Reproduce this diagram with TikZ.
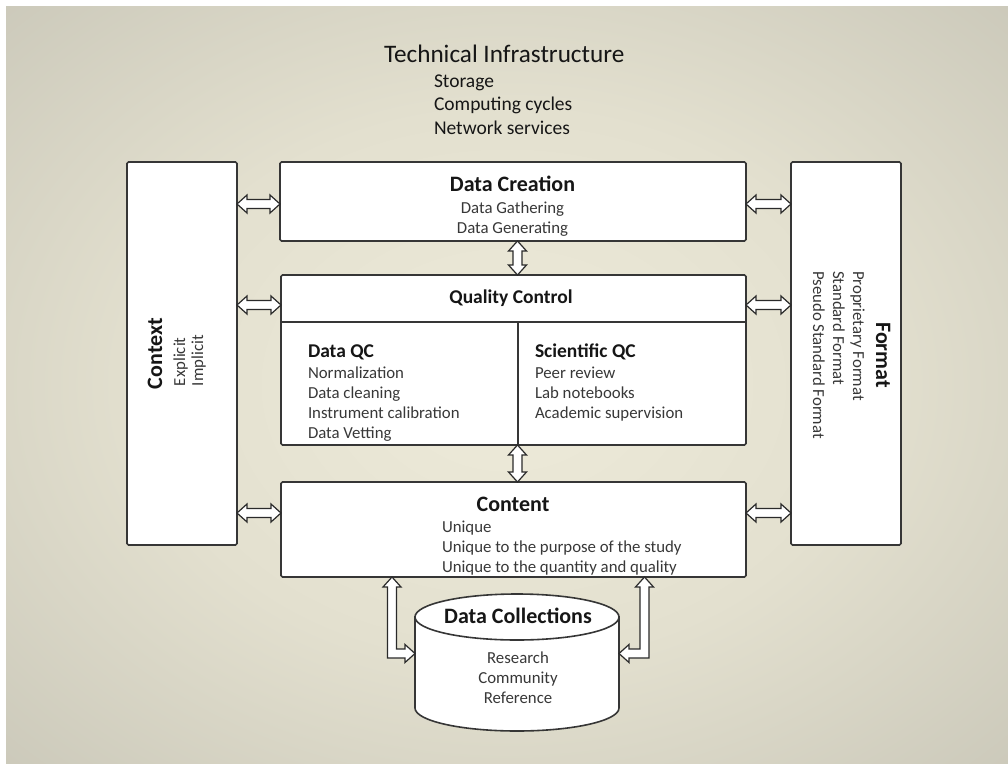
\documentclass[tikz,border=0pt]{standalone}
\usepackage{fontspec}
\setmainfont{Carlito}
\usetikzlibrary{calc}
\definecolor{bgA}{HTML}{EEEBDA}
\definecolor{bgB}{HTML}{E3E0CF}
\definecolor{bgC}{HTML}{B9B7AA}
\definecolor{bgD}{HTML}{A5A398}
\definecolor{titlec}{HTML}{161616}
\definecolor{itemc}{HTML}{383838}
\definecolor{boxline}{HTML}{363636}
\definecolor{arrline}{HTML}{2A2A2A}
\pgfdeclareradialshading{bgshade}{\pgfpoint{0bp}{0bp}}{color(0bp)=(bgA); color(18bp)=(bgB); color(50bp)=(bgC); color(71bp)=(bgD)}
\newcommand\fsz[2]{\fontsize{#1}{#2}\selectfont}
% horizontal double arrow between two points of equal height
\newcommand\harr[2]{\draw[arrw] let \p1=(#1), \p2=(#2) in
  (\x1,\y1) -- (\x1+10pt,\y1+9pt) -- (\x1+10pt,\y1+4.5pt) -- (\x2-10pt,\y1+4.5pt) -- (\x2-10pt,\y1+9pt)
  -- (\x2,\y1) -- (\x2-10pt,\y1-9pt) -- (\x2-10pt,\y1-4.5pt) -- (\x1+10pt,\y1-4.5pt) -- (\x1+10pt,\y1-9pt) -- cycle;}
% vertical double arrow, #1 top point, #2 bottom point
\newcommand\varr[2]{\draw[arrw] let \p1=(#1), \p2=(#2) in
  (\x1,\y1) -- (\x1+9pt,\y1-10pt) -- (\x1+4.5pt,\y1-10pt) -- (\x1+4.5pt,\y2+10pt) -- (\x1+9pt,\y2+10pt)
  -- (\x1,\y2) -- (\x1-9pt,\y2+10pt) -- (\x1-4.5pt,\y2+10pt) -- (\x1-4.5pt,\y1-10pt) -- (\x1-9pt,\y1-10pt) -- cycle;}
% L-shaped arrow: up tip #1, right tip #2
\newcommand\larrR[2]{\draw[arrw] let \p1=(#1), \p2=(#2) in
  (\x1,\y1) -- (\x1+9pt,\y1-10pt) -- (\x1+4.5pt,\y1-10pt) -- (\x1+4.5pt,\y2+4.5pt) -- (\x2-10pt,\y2+4.5pt)
  -- (\x2-10pt,\y2+9pt) -- (\x2,\y2) -- (\x2-10pt,\y2-9pt) -- (\x2-10pt,\y2-4.5pt) -- (\x1-4.5pt,\y2-4.5pt)
  -- (\x1-4.5pt,\y1-10pt) -- (\x1-9pt,\y1-10pt) -- cycle;}
% L-shaped arrow: up tip #1, left tip #2
\newcommand\larrL[2]{\draw[arrw] let \p1=(#1), \p2=(#2) in
  (\x1,\y1) -- (\x1-9pt,\y1-10pt) -- (\x1-4.5pt,\y1-10pt) -- (\x1-4.5pt,\y2+4.5pt) -- (\x2+10pt,\y2+4.5pt)
  -- (\x2+10pt,\y2+9pt) -- (\x2,\y2) -- (\x2+10pt,\y2-9pt) -- (\x2+10pt,\y2-4.5pt) -- (\x1+4.5pt,\y2-4.5pt)
  -- (\x1+4.5pt,\y1-10pt) -- (\x1+9pt,\y1-10pt) -- cycle;}
\begin{document}
\begin{tikzpicture}[x=1pt,y=-1pt,
  panel/.style={draw=boxline, line width=1.6pt, fill=white, rounded corners=1.5pt, inner sep=0pt, outer sep=0pt},
  arrw/.style={draw=arrline, line width=1.2pt, fill=white, line join=miter},
  ttl/.style={inner sep=0pt, outer sep=0pt, font=\bfseries\fsz{22}{26}, text=titlec},
  qct/.style={inner sep=0pt, outer sep=0pt, font=\bfseries\fsz{19.5}{23}, text=titlec},
  itm/.style={inner sep=0pt, outer sep=0pt, font=\fsz{16.8}{20}, text=itemc},
  toptitle/.style={inner sep=0pt, outer sep=0pt, font=\fsz{25.2}{28}, text=titlec},
  topitem/.style={inner sep=0pt, outer sep=0pt, font=\fsz{19.5}{23}, text=titlec}]
\useasboundingbox (0,0) rectangle (1008,763);
\fill[white] (0,0) rectangle (1008,763);
\shade[shading=bgshade] (6,6) rectangle (1008,763);

% top text
\node[toptitle, anchor=base west] (ti) at (384,62) {Technical Infrastructure};
\node[topitem, anchor=base west] (ti1) at (434,87) {Storage};
\node[topitem, anchor=base west] (ti2) at (434,110) {Computing cycles};
\node[topitem, anchor=base west] (ti3) at (434,134) {Network services};

% panels
\node[panel, minimum width=110pt, minimum height=383pt] (ctx) at (182,353.5) {};
\node[panel, minimum width=110pt, minimum height=383pt] (fmt) at (846,353.5) {};
\node[panel, minimum width=466pt, minimum height=79pt] (dc) at (513,201.5) {};
\node[panel, minimum width=465pt, minimum height=170pt] (qc) at (513.5,360) {};
\node[panel, minimum width=465pt, minimum height=95pt] (cnt) at (513.5,529.5) {};
\coordinate (qcdiv) at (518,322);
\draw[boxline, line width=1.6pt] (qc.west |- qcdiv) -- (qc.east |- qcdiv);
\draw[boxline, line width=1.6pt] (qcdiv) -- (qcdiv |- qc.south);

% cylinder
\node[inner sep=0pt, outer sep=0pt, minimum width=204pt, minimum height=137pt] (cyl) at (517,662.5) {};
\filldraw[draw=boxline, line width=1.6pt, fill=white] (415,617) -- (415,708)
  arc[start angle=180, end angle=360, x radius=102pt, y radius=23pt] -- (619,617) -- cycle;
\filldraw[draw=boxline, line width=1.6pt, fill=white] (517,617) ellipse[x radius=102pt, y radius=23pt];

% arrow levels
\coordinate (ya) at (0,204);
\coordinate (yb) at (0,305);
\coordinate (yc) at (0,513);
\coordinate (xa) at (517.5,0);
\coordinate (la) at (392,0);
\coordinate (ra) at (644.5,0);
\coordinate (ly) at (0,653.5);

\harr{ctx.east |- ya}{dc.west |- ya}
\harr{ctx.east |- yb}{qc.west |- yb}
\harr{ctx.east |- yc}{cnt.west |- yc}
\harr{dc.east |- ya}{fmt.west |- ya}
\harr{qc.east |- yb}{fmt.west |- yb}
\harr{cnt.east |- yc}{fmt.west |- yc}
\varr{dc.south -| xa}{qc.north -| xa}
\varr{qc.south -| xa}{cnt.north -| xa}
\larrR{cnt.south -| la}{cyl.west |- ly}
\larrL{cnt.south -| ra}{cyl.east |- ly}

% Data Creation
\node[ttl, anchor=base] (dct) at (512.5,191) {Data Creation};
\node[itm, anchor=base] (dc1) at (512.5,213) {Data Gathering};
\node[itm, anchor=base] (dc2) at (512.5,233) {Data Generating};

% Quality Control
\node[qct, anchor=base] (qctt) at (511,303) {Quality Control};
\node[qct, anchor=base west] (dqc) at (308,357) {Data QC};
\node[itm, anchor=base west] (dqc1) at (308,378) {Normalization};
\node[itm, anchor=base west] (dqc2) at (308,398) {Data cleaning};
\node[itm, anchor=base west] (dqc3) at (308,418.5) {Instrument calibration};
\node[itm, anchor=base west] (dqc4) at (308,438.5) {Data Vetting};
\node[qct, anchor=base west] (sqc) at (535,357) {Scientific QC};
\node[itm, anchor=base west] (sqc1) at (535,378) {Peer review};
\node[itm, anchor=base west] (sqc2) at (535,398) {Lab notebooks};
\node[itm, anchor=base west] (sqc3) at (535,418.5) {Academic supervision};

% Content
\node[ttl, anchor=base] (cntt) at (513,511) {Content};
\node[itm, anchor=base west] (cn1) at (442,532) {Unique};
\node[itm, anchor=base west] (cn2) at (442,552) {Unique to the purpose of the study};
\node[itm, anchor=base west] (cn3) at (442,572.5) {Unique to the quantity and quality};

% Data Collections
\node[ttl, anchor=base] (cylt) at (518,623) {Data Collections};
\node[itm, anchor=base] (cy1) at (518,663) {Research};
\node[itm, anchor=base] (cy2) at (518,683) {Community};
\node[itm, anchor=base] (cy3) at (518,703) {Reference};

% Context (rotated)
\node[ttl, anchor=base west, rotate=90] (ctxt) at (162,389) {Context};
\node[itm, anchor=base west, rotate=90] (ctx1) at (185,386) {Explicit};
\node[itm, anchor=base west, rotate=90] (ctx2) at (203,386) {Implicit};

% Format (rotated)
\node[ttl, anchor=base, rotate=-90] (fmtt) at (876,355) {Format};
\node[itm, anchor=base west, rotate=-90] (fm1) at (853,271) {Proprietary Format};
\node[itm, anchor=base west, rotate=-90] (fm2) at (833,271) {Standard Format};
\node[itm, anchor=base west, rotate=-90] (fm3) at (813,271) {Pseudo Standard Format};
\end{tikzpicture}
\end{document}
